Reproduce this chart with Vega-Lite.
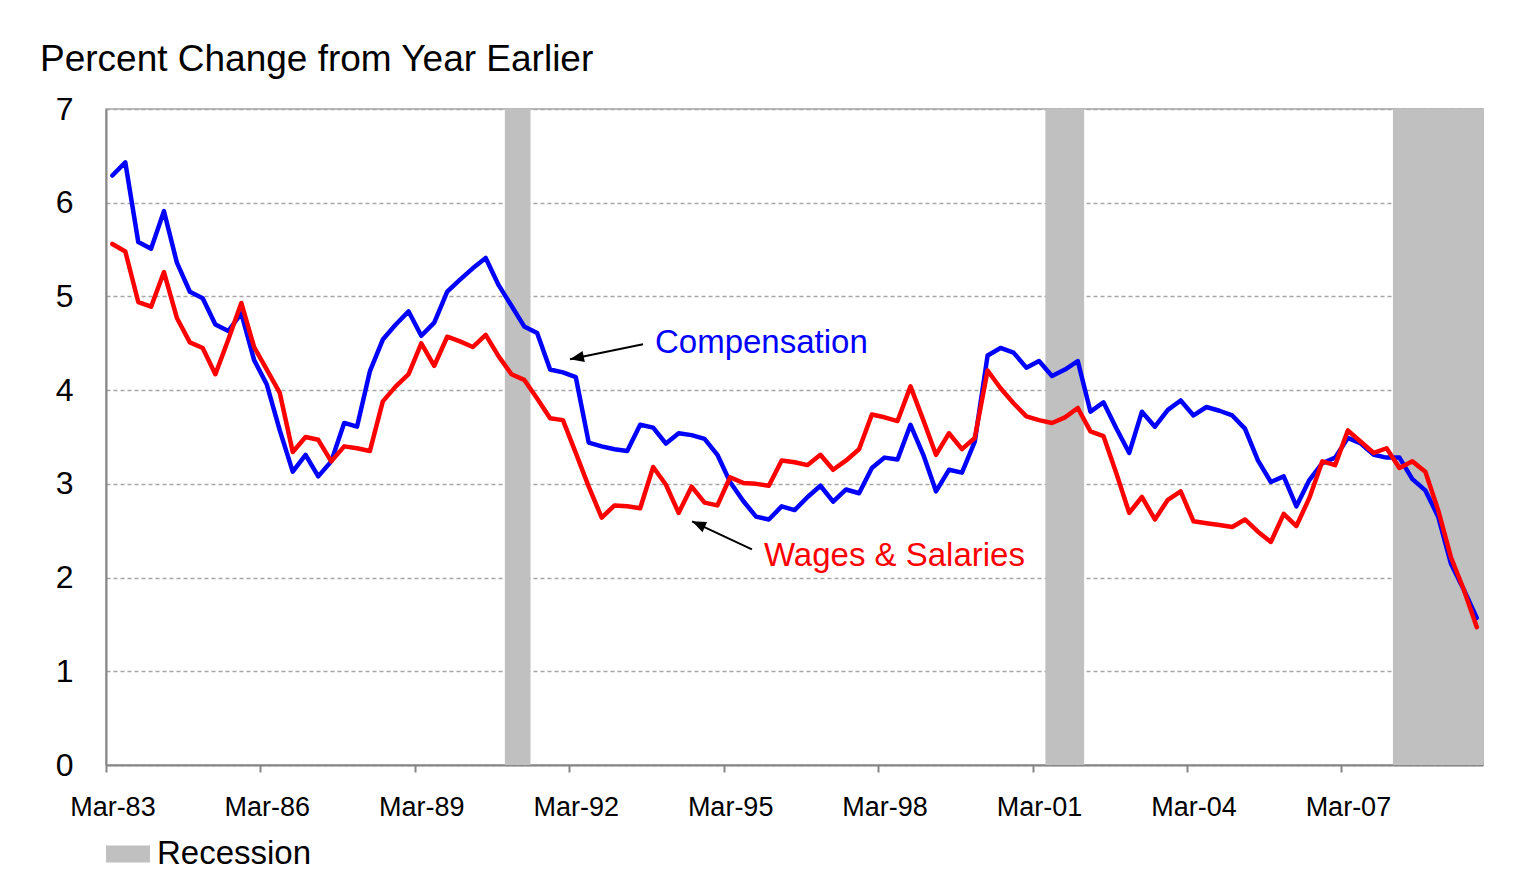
{
  "$schema": "https://vega.github.io/schema/vega-lite/v6.json",
  "width": 1377,
  "height": 656,
  "autosize": {"type": "none"},
  "padding": {"left": 106, "top": 109, "right": 49, "bottom": 116},
  "background": "white",
  "config": {
    "font": "Liberation Sans",
    "view": {"stroke": "#A6A6A6", "strokeWidth": 1.5}
  },
  "title": {
    "text": "Percent Change from Year Earlier",
    "anchor": "start",
    "frame": "group",
    "dx": -66,
    "dy": 39,
    "offset": 24,
    "baseline": "alphabetic",
    "fontSize": 37,
    "font": "Liberation Sans",
    "fontWeight": "normal",
    "color": "#000000"
  },
  "datasets": {
    "recessions": [
      {"start": "1990-10-15", "end": "1991-04-15", "label": "Recession"},
      {"start": "2001-04-15", "end": "2002-01-15", "label": "Recession"},
      {"start": "2008-01-15", "end": "2009-10-15", "label": "Recession"}
    ],
    "series": [
      {"date":"1983-03-01","series":"Compensation","value":6.29},
      {"date":"1983-06-01","series":"Compensation","value":6.43},
      {"date":"1983-09-01","series":"Compensation","value":5.58},
      {"date":"1983-12-01","series":"Compensation","value":5.51},
      {"date":"1984-03-01","series":"Compensation","value":5.91},
      {"date":"1984-06-01","series":"Compensation","value":5.36},
      {"date":"1984-09-01","series":"Compensation","value":5.05},
      {"date":"1984-12-01","series":"Compensation","value":4.98},
      {"date":"1985-03-01","series":"Compensation","value":4.70},
      {"date":"1985-06-01","series":"Compensation","value":4.63},
      {"date":"1985-09-01","series":"Compensation","value":4.82},
      {"date":"1985-12-01","series":"Compensation","value":4.32},
      {"date":"1986-03-01","series":"Compensation","value":4.06},
      {"date":"1986-06-01","series":"Compensation","value":3.57},
      {"date":"1986-09-01","series":"Compensation","value":3.13},
      {"date":"1986-12-01","series":"Compensation","value":3.31},
      {"date":"1987-03-01","series":"Compensation","value":3.08},
      {"date":"1987-06-01","series":"Compensation","value":3.24},
      {"date":"1987-09-01","series":"Compensation","value":3.65},
      {"date":"1987-12-01","series":"Compensation","value":3.61},
      {"date":"1988-03-01","series":"Compensation","value":4.20},
      {"date":"1988-06-01","series":"Compensation","value":4.54},
      {"date":"1988-09-01","series":"Compensation","value":4.70},
      {"date":"1988-12-01","series":"Compensation","value":4.84},
      {"date":"1989-03-01","series":"Compensation","value":4.58},
      {"date":"1989-06-01","series":"Compensation","value":4.72},
      {"date":"1989-09-01","series":"Compensation","value":5.05},
      {"date":"1989-12-01","series":"Compensation","value":5.18},
      {"date":"1990-03-01","series":"Compensation","value":5.30},
      {"date":"1990-06-01","series":"Compensation","value":5.41},
      {"date":"1990-09-01","series":"Compensation","value":5.12},
      {"date":"1990-12-01","series":"Compensation","value":4.90},
      {"date":"1991-03-01","series":"Compensation","value":4.68},
      {"date":"1991-06-01","series":"Compensation","value":4.61},
      {"date":"1991-09-01","series":"Compensation","value":4.22},
      {"date":"1991-12-01","series":"Compensation","value":4.19},
      {"date":"1992-03-01","series":"Compensation","value":4.14},
      {"date":"1992-06-01","series":"Compensation","value":3.44},
      {"date":"1992-09-01","series":"Compensation","value":3.40},
      {"date":"1992-12-01","series":"Compensation","value":3.37},
      {"date":"1993-03-01","series":"Compensation","value":3.35},
      {"date":"1993-06-01","series":"Compensation","value":3.63},
      {"date":"1993-09-01","series":"Compensation","value":3.60},
      {"date":"1993-12-01","series":"Compensation","value":3.43},
      {"date":"1994-03-01","series":"Compensation","value":3.54},
      {"date":"1994-06-01","series":"Compensation","value":3.52},
      {"date":"1994-09-01","series":"Compensation","value":3.48},
      {"date":"1994-12-01","series":"Compensation","value":3.31},
      {"date":"1995-03-01","series":"Compensation","value":3.02},
      {"date":"1995-06-01","series":"Compensation","value":2.82},
      {"date":"1995-09-01","series":"Compensation","value":2.65},
      {"date":"1995-12-01","series":"Compensation","value":2.62},
      {"date":"1996-03-01","series":"Compensation","value":2.76},
      {"date":"1996-06-01","series":"Compensation","value":2.72},
      {"date":"1996-09-01","series":"Compensation","value":2.86},
      {"date":"1996-12-01","series":"Compensation","value":2.98},
      {"date":"1997-03-01","series":"Compensation","value":2.81},
      {"date":"1997-06-01","series":"Compensation","value":2.94},
      {"date":"1997-09-01","series":"Compensation","value":2.90},
      {"date":"1997-12-01","series":"Compensation","value":3.17},
      {"date":"1998-03-01","series":"Compensation","value":3.28},
      {"date":"1998-06-01","series":"Compensation","value":3.26},
      {"date":"1998-09-01","series":"Compensation","value":3.63},
      {"date":"1998-12-01","series":"Compensation","value":3.31},
      {"date":"1999-03-01","series":"Compensation","value":2.92},
      {"date":"1999-06-01","series":"Compensation","value":3.15},
      {"date":"1999-09-01","series":"Compensation","value":3.12},
      {"date":"1999-12-01","series":"Compensation","value":3.45},
      {"date":"2000-03-01","series":"Compensation","value":4.37},
      {"date":"2000-06-01","series":"Compensation","value":4.45},
      {"date":"2000-09-01","series":"Compensation","value":4.40},
      {"date":"2000-12-01","series":"Compensation","value":4.24},
      {"date":"2001-03-01","series":"Compensation","value":4.31},
      {"date":"2001-06-01","series":"Compensation","value":4.15},
      {"date":"2001-09-01","series":"Compensation","value":4.22},
      {"date":"2001-12-01","series":"Compensation","value":4.31},
      {"date":"2002-03-01","series":"Compensation","value":3.77},
      {"date":"2002-06-01","series":"Compensation","value":3.87},
      {"date":"2002-09-01","series":"Compensation","value":3.59},
      {"date":"2002-12-01","series":"Compensation","value":3.33},
      {"date":"2003-03-01","series":"Compensation","value":3.77},
      {"date":"2003-06-01","series":"Compensation","value":3.61},
      {"date":"2003-09-01","series":"Compensation","value":3.79},
      {"date":"2003-12-01","series":"Compensation","value":3.89},
      {"date":"2004-03-01","series":"Compensation","value":3.73},
      {"date":"2004-06-01","series":"Compensation","value":3.82},
      {"date":"2004-09-01","series":"Compensation","value":3.78},
      {"date":"2004-12-01","series":"Compensation","value":3.73},
      {"date":"2005-03-01","series":"Compensation","value":3.59},
      {"date":"2005-06-01","series":"Compensation","value":3.25},
      {"date":"2005-09-01","series":"Compensation","value":3.02},
      {"date":"2005-12-01","series":"Compensation","value":3.08},
      {"date":"2006-03-01","series":"Compensation","value":2.76},
      {"date":"2006-06-01","series":"Compensation","value":3.04},
      {"date":"2006-09-01","series":"Compensation","value":3.22},
      {"date":"2006-12-01","series":"Compensation","value":3.28},
      {"date":"2007-03-01","series":"Compensation","value":3.49},
      {"date":"2007-06-01","series":"Compensation","value":3.43},
      {"date":"2007-09-01","series":"Compensation","value":3.31},
      {"date":"2007-12-01","series":"Compensation","value":3.28},
      {"date":"2008-03-01","series":"Compensation","value":3.28},
      {"date":"2008-06-01","series":"Compensation","value":3.05},
      {"date":"2008-09-01","series":"Compensation","value":2.93},
      {"date":"2008-12-01","series":"Compensation","value":2.65},
      {"date":"2009-03-01","series":"Compensation","value":2.15},
      {"date":"2009-06-01","series":"Compensation","value":1.87},
      {"date":"2009-09-01","series":"Compensation","value":1.57},
      {"date":"1983-03-01","series":"Wages & Salaries","value":5.56},
      {"date":"1983-06-01","series":"Wages & Salaries","value":5.48},
      {"date":"1983-09-01","series":"Wages & Salaries","value":4.94},
      {"date":"1983-12-01","series":"Wages & Salaries","value":4.89},
      {"date":"1984-03-01","series":"Wages & Salaries","value":5.26},
      {"date":"1984-06-01","series":"Wages & Salaries","value":4.77},
      {"date":"1984-09-01","series":"Wages & Salaries","value":4.51},
      {"date":"1984-12-01","series":"Wages & Salaries","value":4.45},
      {"date":"1985-03-01","series":"Wages & Salaries","value":4.17},
      {"date":"1985-06-01","series":"Wages & Salaries","value":4.54},
      {"date":"1985-09-01","series":"Wages & Salaries","value":4.93},
      {"date":"1985-12-01","series":"Wages & Salaries","value":4.46},
      {"date":"1986-03-01","series":"Wages & Salaries","value":4.22},
      {"date":"1986-06-01","series":"Wages & Salaries","value":3.97},
      {"date":"1986-09-01","series":"Wages & Salaries","value":3.34},
      {"date":"1986-12-01","series":"Wages & Salaries","value":3.50},
      {"date":"1987-03-01","series":"Wages & Salaries","value":3.47},
      {"date":"1987-06-01","series":"Wages & Salaries","value":3.24},
      {"date":"1987-09-01","series":"Wages & Salaries","value":3.40},
      {"date":"1987-12-01","series":"Wages & Salaries","value":3.38},
      {"date":"1988-03-01","series":"Wages & Salaries","value":3.35},
      {"date":"1988-06-01","series":"Wages & Salaries","value":3.88},
      {"date":"1988-09-01","series":"Wages & Salaries","value":4.04},
      {"date":"1988-12-01","series":"Wages & Salaries","value":4.17},
      {"date":"1989-03-01","series":"Wages & Salaries","value":4.50},
      {"date":"1989-06-01","series":"Wages & Salaries","value":4.26},
      {"date":"1989-09-01","series":"Wages & Salaries","value":4.57},
      {"date":"1989-12-01","series":"Wages & Salaries","value":4.52},
      {"date":"1990-03-01","series":"Wages & Salaries","value":4.46},
      {"date":"1990-06-01","series":"Wages & Salaries","value":4.59},
      {"date":"1990-09-01","series":"Wages & Salaries","value":4.36},
      {"date":"1990-12-01","series":"Wages & Salaries","value":4.17},
      {"date":"1991-03-01","series":"Wages & Salaries","value":4.11},
      {"date":"1991-06-01","series":"Wages & Salaries","value":3.91},
      {"date":"1991-09-01","series":"Wages & Salaries","value":3.70},
      {"date":"1991-12-01","series":"Wages & Salaries","value":3.68},
      {"date":"1992-03-01","series":"Wages & Salaries","value":3.33},
      {"date":"1992-06-01","series":"Wages & Salaries","value":2.97},
      {"date":"1992-09-01","series":"Wages & Salaries","value":2.64},
      {"date":"1992-12-01","series":"Wages & Salaries","value":2.77},
      {"date":"1993-03-01","series":"Wages & Salaries","value":2.76},
      {"date":"1993-06-01","series":"Wages & Salaries","value":2.74},
      {"date":"1993-09-01","series":"Wages & Salaries","value":3.18},
      {"date":"1993-12-01","series":"Wages & Salaries","value":2.99},
      {"date":"1994-03-01","series":"Wages & Salaries","value":2.69},
      {"date":"1994-06-01","series":"Wages & Salaries","value":2.97},
      {"date":"1994-09-01","series":"Wages & Salaries","value":2.80},
      {"date":"1994-12-01","series":"Wages & Salaries","value":2.77},
      {"date":"1995-03-01","series":"Wages & Salaries","value":3.07},
      {"date":"1995-06-01","series":"Wages & Salaries","value":3.01},
      {"date":"1995-09-01","series":"Wages & Salaries","value":3.00},
      {"date":"1995-12-01","series":"Wages & Salaries","value":2.98},
      {"date":"1996-03-01","series":"Wages & Salaries","value":3.25},
      {"date":"1996-06-01","series":"Wages & Salaries","value":3.23},
      {"date":"1996-09-01","series":"Wages & Salaries","value":3.20},
      {"date":"1996-12-01","series":"Wages & Salaries","value":3.31},
      {"date":"1997-03-01","series":"Wages & Salaries","value":3.15},
      {"date":"1997-06-01","series":"Wages & Salaries","value":3.25},
      {"date":"1997-09-01","series":"Wages & Salaries","value":3.37},
      {"date":"1997-12-01","series":"Wages & Salaries","value":3.74},
      {"date":"1998-03-01","series":"Wages & Salaries","value":3.71},
      {"date":"1998-06-01","series":"Wages & Salaries","value":3.67},
      {"date":"1998-09-01","series":"Wages & Salaries","value":4.04},
      {"date":"1998-12-01","series":"Wages & Salaries","value":3.68},
      {"date":"1999-03-01","series":"Wages & Salaries","value":3.31},
      {"date":"1999-06-01","series":"Wages & Salaries","value":3.54},
      {"date":"1999-09-01","series":"Wages & Salaries","value":3.37},
      {"date":"1999-12-01","series":"Wages & Salaries","value":3.49},
      {"date":"2000-03-01","series":"Wages & Salaries","value":4.21},
      {"date":"2000-06-01","series":"Wages & Salaries","value":4.02},
      {"date":"2000-09-01","series":"Wages & Salaries","value":3.86},
      {"date":"2000-12-01","series":"Wages & Salaries","value":3.72},
      {"date":"2001-03-01","series":"Wages & Salaries","value":3.68},
      {"date":"2001-06-01","series":"Wages & Salaries","value":3.65},
      {"date":"2001-09-01","series":"Wages & Salaries","value":3.71},
      {"date":"2001-12-01","series":"Wages & Salaries","value":3.81},
      {"date":"2002-03-01","series":"Wages & Salaries","value":3.56},
      {"date":"2002-06-01","series":"Wages & Salaries","value":3.51},
      {"date":"2002-09-01","series":"Wages & Salaries","value":3.11},
      {"date":"2002-12-01","series":"Wages & Salaries","value":2.69},
      {"date":"2003-03-01","series":"Wages & Salaries","value":2.86},
      {"date":"2003-06-01","series":"Wages & Salaries","value":2.62},
      {"date":"2003-09-01","series":"Wages & Salaries","value":2.83},
      {"date":"2003-12-01","series":"Wages & Salaries","value":2.92},
      {"date":"2004-03-01","series":"Wages & Salaries","value":2.60},
      {"date":"2004-06-01","series":"Wages & Salaries","value":2.58},
      {"date":"2004-09-01","series":"Wages & Salaries","value":2.56},
      {"date":"2004-12-01","series":"Wages & Salaries","value":2.54},
      {"date":"2005-03-01","series":"Wages & Salaries","value":2.62},
      {"date":"2005-06-01","series":"Wages & Salaries","value":2.49},
      {"date":"2005-09-01","series":"Wages & Salaries","value":2.38},
      {"date":"2005-12-01","series":"Wages & Salaries","value":2.68},
      {"date":"2006-03-01","series":"Wages & Salaries","value":2.55},
      {"date":"2006-06-01","series":"Wages & Salaries","value":2.85},
      {"date":"2006-09-01","series":"Wages & Salaries","value":3.24},
      {"date":"2006-12-01","series":"Wages & Salaries","value":3.20},
      {"date":"2007-03-01","series":"Wages & Salaries","value":3.57},
      {"date":"2007-06-01","series":"Wages & Salaries","value":3.45},
      {"date":"2007-09-01","series":"Wages & Salaries","value":3.33},
      {"date":"2007-12-01","series":"Wages & Salaries","value":3.38},
      {"date":"2008-03-01","series":"Wages & Salaries","value":3.17},
      {"date":"2008-06-01","series":"Wages & Salaries","value":3.24},
      {"date":"2008-09-01","series":"Wages & Salaries","value":3.13},
      {"date":"2008-12-01","series":"Wages & Salaries","value":2.72},
      {"date":"2009-03-01","series":"Wages & Salaries","value":2.22},
      {"date":"2009-06-01","series":"Wages & Salaries","value":1.87},
      {"date":"2009-09-01","series":"Wages & Salaries","value":1.47}
    ],
    "notes": [
      {"label": "Compensation", "date": "1993-09-14", "value": 4.50},
      {"label": "Wages & Salaries", "date": "1995-10-27", "value": 2.23}
    ],
    "arrows": [
      {"label": "Compensation", "from_date": "1993-06-21", "from_value": 4.49, "to_date": "1992-01-20", "to_value": 4.33},
      {"label": "Wages & Salaries", "from_date": "1995-08-03", "from_value": 2.30, "to_date": "1994-06-04", "to_value": 2.60}
    ]
  },
  "layer": [
    {
      "data": {"name": "recessions"},
      "mark": {"type": "rect", "strokeWidth": 0},
      "encoding": {
        "x": {
          "field": "start",
          "type": "temporal",
          "scale": {
            "type": "utc",
            "domain": [
              {"year": 1983, "month": 1, "date": 15, "utc": true},
              {"year": 2009, "month": 10, "date": 15, "utc": true}
            ]
          },
          "axis": {
            "title": null,
            "values": [
              {"year": 1983, "month": 1, "date": 15, "utc": true},
              {"year": 1986, "month": 1, "date": 15, "utc": true},
              {"year": 1989, "month": 1, "date": 15, "utc": true},
              {"year": 1992, "month": 1, "date": 15, "utc": true},
              {"year": 1995, "month": 1, "date": 15, "utc": true},
              {"year": 1998, "month": 1, "date": 15, "utc": true},
              {"year": 2001, "month": 1, "date": 15, "utc": true},
              {"year": 2004, "month": 1, "date": 15, "utc": true},
              {"year": 2007, "month": 1, "date": 15, "utc": true}
            ],
            "labelExpr": "utcFormat(datum.value + 60*86400000, '%b-%y')",
            "grid": false,
            "ticks": true,
            "tickSize": 7,
            "tickWidth": 2,
            "tickColor": "#868686",
            "domainColor": "#868686",
            "domainWidth": 2,
            "labelFontSize": 27,
            "labelFont": "Liberation Sans",
            "labelColor": "#000000",
            "labelPadding": 22,
            "labelOffset": 6.4,
            "labelFlush": false,
            "labelOverlap": false
          }
        },
        "x2": {"field": "end"},
        "fill": {
          "field": "label",
          "type": "nominal",
          "scale": {"range": ["#C0C0C0"]},
          "legend": {
            "title": null,
            "orient": "none",
            "legendX": 0,
            "legendY": 723,
            "padding": 0,
            "symbolType": "M-1,-0.39H1V0.39H-1Z",
            "symbolSize": 1936,
            "symbolStrokeWidth": 0,
            "symbolOpacity": 1,
            "labelFontSize": 33,
            "labelFont": "Liberation Sans",
            "labelColor": "#000000",
            "labelOffset": 7
          }
        }
      }
    },
    {
      "data": {"name": "series"},
      "mark": {"type": "line", "strokeWidth": 4.5, "strokeJoin": "round", "strokeCap": "round"},
      "encoding": {
        "x": {"field": "date", "type": "temporal"},
        "y": {
          "field": "value",
          "type": "quantitative",
          "scale": {"domain": [0, 7], "nice": false, "zero": true},
          "axis": {
            "title": null,
            "values": [0, 1, 2, 3, 4, 5, 6, 7],
            "format": "d",
            "ticks": false,
            "labelPadding": 33,
            "labelFontSize": 32,
            "labelFont": "Liberation Sans",
            "labelColor": "#000000",
            "domainColor": "#868686",
            "domainWidth": 2,
            "grid": true,
            "gridColor": "#A6A6A6",
            "gridDash": [4, 3],
            "gridWidth": 1.3
          }
        },
        "color": {
          "field": "series",
          "type": "nominal",
          "scale": {"domain": ["Compensation", "Wages & Salaries"], "range": ["#0000FF", "#FF0000"]},
          "legend": null
        }
      }
    },
    {
      "data": {"name": "arrows"},
      "mark": {"type": "rule", "strokeWidth": 2, "color": "#000000"},
      "encoding": {
        "x": {"field": "from_date", "type": "temporal"},
        "y": {"field": "from_value", "type": "quantitative"},
        "x2": {"field": "to_date"},
        "y2": {"field": "to_value"}
      }
    },
    {
      "data": {"name": "arrows"},
      "transform": [{"filter": "datum.label == 'Compensation'"}],
      "mark": {"type": "point", "shape": "M0,0L-1,-0.4L-1,0.4Z", "size": 784, "filled": true, "opacity": 1, "color": "#000000", "angle": 168.4},
      "encoding": {
        "x": {"field": "to_date", "type": "temporal"},
        "y": {"field": "to_value", "type": "quantitative"}
      }
    },
    {
      "data": {"name": "arrows"},
      "transform": [{"filter": "datum.label == 'Wages & Salaries'"}],
      "mark": {"type": "point", "shape": "M0,0L-1,-0.4L-1,0.4Z", "size": 784, "filled": true, "opacity": 1, "color": "#000000", "angle": 204.2},
      "encoding": {
        "x": {"field": "to_date", "type": "temporal"},
        "y": {"field": "to_value", "type": "quantitative"}
      }
    },
    {
      "data": {"name": "notes"},
      "mark": {"type": "text", "align": "left", "baseline": "middle", "fontSize": 33, "font": "Liberation Sans"},
      "encoding": {
        "x": {"field": "date", "type": "temporal"},
        "y": {"field": "value", "type": "quantitative"},
        "text": {"field": "label"},
        "color": {"field": "label", "type": "nominal", "legend": null}
      }
    }
  ]
}
